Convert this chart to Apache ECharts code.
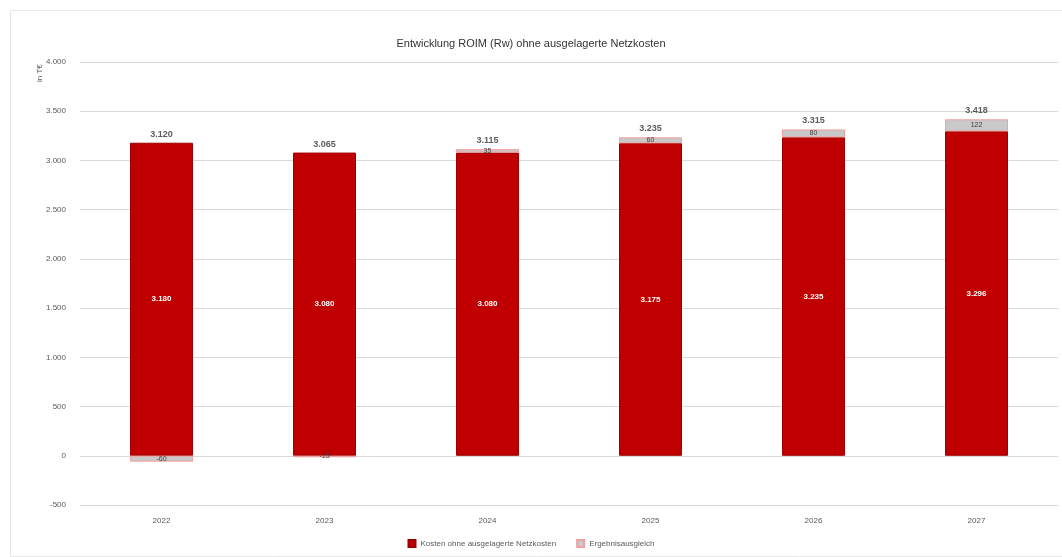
<!DOCTYPE html>
<html><head><meta charset="utf-8">
<script src="https://cdn.jsdelivr.net/npm/echarts@6/dist/echarts.min.js"></script>
<style>html,body{margin:0;padding:0;background:#fff}#c{width:1062px;height:557px}</style>
</head><body><div id="c"></div>
<script>
const categories = ['2022', '2023', '2024', '2025', '2026', '2027'];
const kosten = [3180, 3080, 3080, 3175, 3235, 3296];
const ausgleich = [-60, -15, 35, 60, 80, 122];
const yTicks = [-500, 4000, 500];
const titleText = 'Entwicklung ROIM (Rw) ohne ausgelagerte Netzkosten';
const legendNames = ['Kosten ohne ausgelagerte Netzkosten', 'Ergebnisausgleich'];
const unitText = 'in T€';

const fmt = v => Math.round(v).toLocaleString('de-DE');
const totals = kosten.map((k, i) => k + ausgleich[i]);
const tops = kosten.map((k, i) => Math.max(k, k + ausgleich[i]));

const chart = echarts.init(document.getElementById('c'));
chart.setOption({
  animation: false,
  backgroundColor: '#fff',
  title: { text: titleText, left: 'center', top: 33,
    textStyle: { fontSize: 11, fontWeight: 'normal', color: '#333', fontFamily: 'Liberation Sans' } },
  graphic: [
    { type: 'rect', left: 8, top: 8, shape: { width: 1052, height: 546 }, style: { fill: 'none', stroke: '#e6e6e6', lineWidth: 1 }, silent: true },
    { type: 'text', x: 36, y: 82, rotation: Math.PI / 2, style: { text: unitText, fontSize: 8, fill: '#595959', fontFamily: 'Liberation Sans' } }
  ],
  legend: { bottom: 4, itemWidth: 7, itemHeight: 7, itemGap: 20, icon: 'rect',
    data: legendNames,
    textStyle: { fontSize: 8, color: '#595959', fontFamily: 'Liberation Sans' } },
  grid: { left: 80, right: 4, top: 62, bottom: 52 },
  xAxis: { type: 'category', data: categories,
    axisLine: { show: false }, axisTick: { show: false },
    axisLabel: { fontSize: 8, color: '#595959', margin: 12, fontFamily: 'Liberation Sans' } },
  yAxis: { type: 'value', min: yTicks[0], max: yTicks[1], interval: yTicks[2],
    axisLabel: { fontSize: 8, color: '#595959', formatter: fmt, margin: 14, fontFamily: 'Liberation Sans' },
    splitLine: { lineStyle: { color: '#d9d9d9', width: 1 } },
    axisLine: { show: false }, axisTick: { show: false } },
  series: [
    { name: legendNames[0], type: 'bar', stack: 's', data: kosten, barWidth: 63,
      itemStyle: { color: '#C00000', borderColor: '#9c0000', borderWidth: 1 },
      label: { show: true, position: 'inside', color: '#fff', fontSize: 8, fontWeight: 'bold', formatter: p => fmt(p.value) } },
    { name: legendNames[1], type: 'bar', stack: 's', data: ausgleich, barWidth: 63,
      itemStyle: { color: '#C9C9C9', borderColor: '#f0a0a0', borderWidth: 1 },
      label: { show: true, position: 'inside', color: '#404040', fontSize: 7, formatter: p => fmt(p.value) } },
    { name: 'Summe', type: 'scatter', data: tops, symbolSize: 0, silent: true,
      label: { show: true, position: 'top', distance: 4, color: '#333', fontSize: 9, fontWeight: 'bold',
        formatter: p => fmt(totals[p.dataIndex]) } }
  ]
});
</script></body></html>
